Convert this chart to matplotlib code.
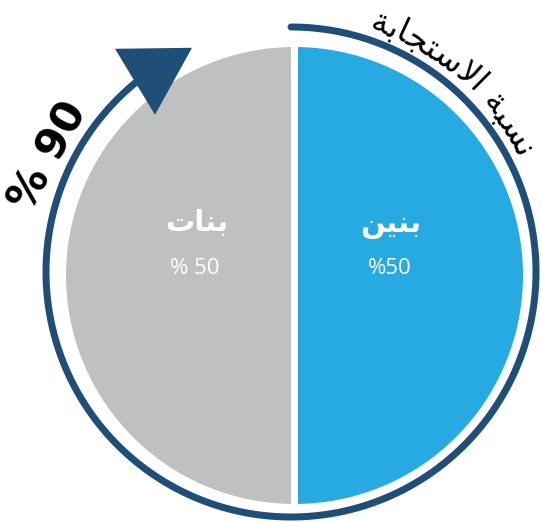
import numpy as np
import matplotlib
matplotlib.use("Agg")
import matplotlib.pyplot as plt
from matplotlib.patches import Polygon
from matplotlib.font_manager import FontProperties, findfont
from matplotlib.ft2font import FT2Font

# ---------------- data ----------------
categories = ["بنين", "بنات"]
# Arabic presentation forms in visual (left-to-right) order for rendering
category_glyphs = ["\uFEE6\uFEF4\uFEE8\uFE91", "\uFE95\uFE8E\uFEE8\uFE91"]
shares = [50, 50]
share_labels = ["%50", "% 50"]
response_rate = 90
response_label = "% 90"
response_title = "نسبة الاستجابة"
response_title_glyphs = "\uFE94\uFE91\uFE8E\uFEA0\uFE98\uFEB3\uFEFB\uFE8D \uFE94\uFE92\uFEB4\uFEE7"

# ---------------- style ----------------
BLUE = "#27A9E1"
GRAY = "#BFC0C0"
DARK = "#1F4E79"
W, H = 541, 522
PX = 72 / 100  # points per pixel

fig = plt.figure(figsize=(W / 100, H / 100), dpi=100)
ax = fig.add_axes([0, 0, 1, 1])

# pie
pie_c = (294.5, H - 275.5)
pie_r = 232
ax.pie(shares, colors=[BLUE, GRAY], startangle=90, counterclock=False,
       center=pie_c, radius=pie_r,
       wedgeprops=dict(edgecolor="white", linewidth=7 * PX))

# outer response arc (90% of the circle, clockwise from the top)
arc_c = (291, H - 272)
arc_r = 245
theta0 = 90.0
theta1 = theta0 - 360.0 * response_rate / 100.0
th = np.radians(np.linspace(theta0, theta1, 400))
ax.plot(arc_c[0] + arc_r * np.cos(th), arc_c[1] + arc_r * np.sin(th),
        color=DARK, lw=7 * PX, solid_capstyle="round")

# arrow head at the arc end
ex = arc_c[0] + arc_r * np.cos(np.radians(theta1))
ey = arc_c[1] + arc_r * np.sin(np.radians(theta1))
tri = np.array([[-32, 25], [45, 26], [8, -41]]) + np.array([ex, ey])
ax.add_patch(Polygon(tri, closed=True, facecolor=DARK, edgecolor="none", zorder=5))

# category labels
ax.text(391, H - 225, category_glyphs[0], color="white", fontsize=21,
        fontweight="bold", family="DejaVu Sans", ha="center", va="center")
ax.text(197, H - 223, category_glyphs[1], color="white", fontsize=21,
        fontweight="bold", family="DejaVu Sans", ha="center", va="center")
ax.text(390, H - 268, share_labels[0], color="white", fontsize=16,
        family=["Open Sans", "DejaVu Sans"], ha="center", va="center")
ax.text(195, H - 268, share_labels[1], color="white", fontsize=16,
        family=["Open Sans", "DejaVu Sans"], ha="center", va="center")

# response percentage
ax.text(49, H - 156, response_label, color="black", fontsize=31,
        fontweight="bold", family="DejaVu Sans", rotation=61,
        ha="center", va="center", rotation_mode="anchor")

# curved title along the arc
fsize = 24
fp = FontProperties(family="DejaVu Sans", size=fsize)
font = FT2Font(findfont(fp))
font.set_size(fsize, 100)
adv = []
for g in response_title_glyphs:
    gl = font.load_char(ord(g))
    adv.append(gl.linearHoriAdvance / 65536.0)
total = sum(adv)
Rt = 255
mid = 49.5
start = np.radians(mid) + (total / 2) / Rt
s = 0.0
for g, a in zip(response_title_glyphs, adv):
    t = start - (s + a / 2) / Rt
    s += a
    if g == " ":
        continue
    ax.text(arc_c[0] + Rt * np.cos(t), arc_c[1] + Rt * np.sin(t), g,
            fontproperties=fp, color="black", rotation=np.degrees(t) - 90,
            rotation_mode="anchor", ha="center", va="baseline")

ax.set_xlim(0, W)
ax.set_ylim(0, H)
ax.set_aspect("auto")
ax.axis("off")
fig.savefig("out.png", dpi=100)
